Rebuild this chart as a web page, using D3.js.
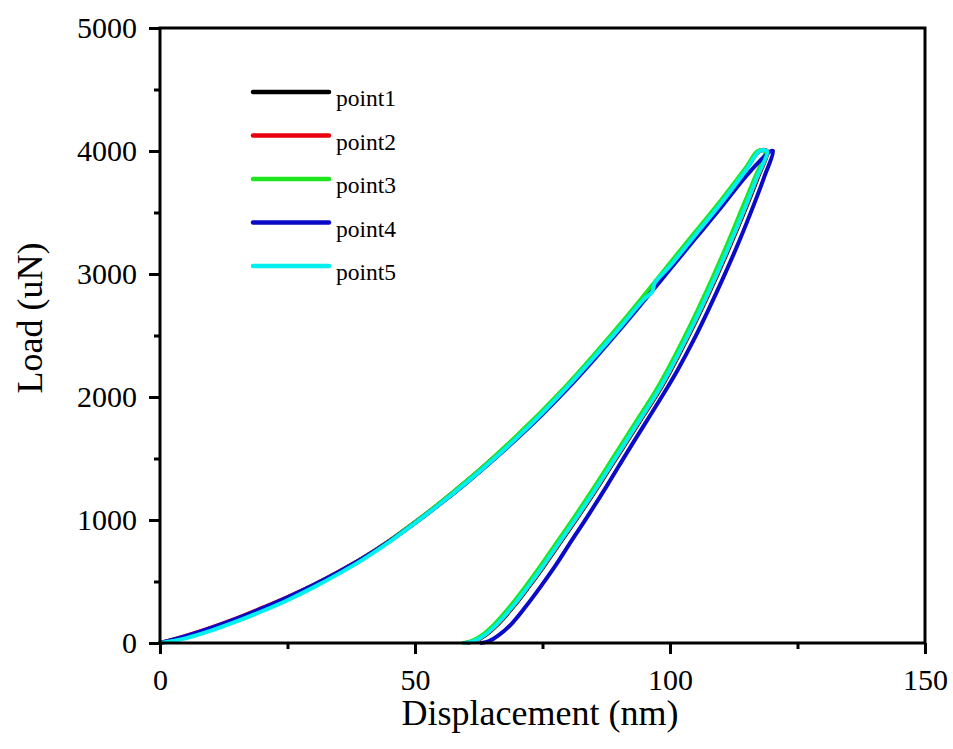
<!DOCTYPE html>
<html>
<head>
<meta charset="utf-8">
<script src="https://cdn.jsdelivr.net/npm/d3@7/dist/d3.min.js"></script>
<style>
  html, body { margin: 0; padding: 0; background: #fff; }
  svg { display: block; }
  text { font-family: "Liberation Serif", "Times New Roman", serif; fill: #000; }
</style>
</head>
<body>
<svg id="chart" width="953" height="749"></svg>
<script>
// ---- data (Displacement nm, Load uN) ----
const seriesNames = ["point1", "point2", "point3", "point4", "point5"];
const seriesColors = ["#000000", "#e8000b", "#1ee61e", "#0a0ac8", "#00f0f0"];

const loadGrid = [0, 5, 10, 15, 20, 25, 30, 35, 40, 45, 50, 55, 60, 65, 70, 75, 80, 85, 90, 95, 100, 105, 110, 115];

const point1Loading = [0, 50, 118, 192, 277, 367, 466, 576, 695, 830, 980, 1140, 1310, 1490, 1680, 1882, 2098, 2328, 2568, 2820, 3075, 3330, 3585, 3860];
const point2Loading = [0, 58, 125, 200, 285, 374, 472, 580, 698, 832, 982, 1142, 1312, 1492, 1682, 1884, 2100, 2330, 2570, 2822, 3078, 3332, 3588, 3862];
const point3Loading = [0, 48, 114, 190, 275, 366, 466, 576, 696, 831, 982, 1143, 1314, 1495, 1688, 1890, 2106, 2338, 2580, 2832, 3090, 3345, 3600, 3872];
const point4Loading = [0, 55, 122, 198, 282, 372, 470, 578, 695, 828, 975, 1132, 1298, 1475, 1662, 1860, 2072, 2300, 2538, 2786, 3038, 3290, 3540, 3800];
const point5Loading = [0, 38, 100, 175, 258, 348, 450, 562, 684, 822, 975, 1134, 1302, 1480, 1670, 1872, 2088, 2318, 2556, 2800, 3065, 3320, 3575, 3850];

// peak / hold segments [start displacement, end displacement] at 4000 uN
const point1Hold = [117.6, 119.0];
const point2Hold = [117.4, 119.0];
const point3Hold = [117.2, 118.6];
const point4Hold = [119.8, 120.2];
const point5Hold = [117.6, 119.0];

// small jog in point5 loading near 96 nm
const point5Jog = [[96.5, 2855], [97.0, 2925]];

// unloading segments (displacement, load), from peak down to zero
const unloadLoads = [3780, 3570, 3270, 2985, 2715, 2460, 2220, 2030, 1810, 1550, 1290, 1040, 800, 620, 450, 290, 150, 60, 15, 0];
const point1Unload = [117.2, 115.2, 112.2, 109.2, 106.2, 103.2, 100.2, 97.6, 94.2, 90.2, 86.2, 82.2, 78.2, 75.2, 72.2, 69.2, 66.2, 63.7, 61.7, 60.0];
const point2Unload = [117.1, 115.1, 112.1, 109.1, 106.1, 103.1, 100.1, 97.5, 94.1, 90.1, 86.1, 82.1, 78.1, 75.1, 72.1, 69.1, 66.1, 63.6, 61.6, 59.9];
const point3Unload = [116.6, 114.5, 111.5, 108.5, 105.5, 102.5, 99.5, 96.9, 93.5, 89.5, 85.5, 81.5, 77.5, 74.5, 71.5, 68.5, 65.5, 63.0, 61.0, 59.5];
const point4Unload = [118.4, 116.5, 113.6, 110.6, 107.6, 104.6, 101.5, 98.8, 95.5, 91.6, 87.8, 84.0, 80.2, 77.4, 74.5, 71.6, 68.8, 66.3, 64.5, 63.0];
const point5Unload = [117.0, 115.0, 112.0, 109.0, 106.0, 103.0, 100.0, 97.4, 94.0, 90.0, 86.0, 82.0, 78.0, 75.0, 72.0, 69.0, 66.0, 63.5, 61.5, 59.8];

const xTicks = [0, 50, 100, 150];
const xMinorTicks = [25, 75, 125];
const yTicks = [0, 1000, 2000, 3000, 4000, 5000];
const yMinorTicks = [500, 1500, 2500, 3500, 4500];

// ---- build series ----
function buildSeries(loading, hold, unload, jog) {
  const pts = loadGrid.map((d, i) => [d, loading[i]]);
  if (jog) {
    jog.forEach(p => pts.push(p));
    pts.sort((a, b) => a[0] - b[0]);
  }
  pts.push([hold[0], 4000]);
  if (hold[1] !== hold[0]) pts.push([hold[1], 4000]);
  unload.forEach((d, i) => pts.push([d, unloadLoads[i]]));
  return pts;
}
const allSeries = [
  buildSeries(point1Loading, point1Hold, point1Unload),
  buildSeries(point2Loading, point2Hold, point2Unload),
  buildSeries(point3Loading, point3Hold, point3Unload),
  buildSeries(point4Loading, point4Hold, point4Unload),
  buildSeries(point5Loading, point5Hold, point5Unload, point5Jog)
];

// ---- layout ----
const svg = d3.select("#chart");
const mLeft = 160, mRight = 925, mTop = 28, mBottom = 643;
const x = d3.scaleLinear().domain([0, 150]).range([mLeft, mRight]);
const y = d3.scaleLinear().domain([0, 5000]).range([mBottom, mTop]);

// curves
const line = d3.line().x(d => x(d[0])).y(d => y(d[1])).curve(d3.curveCatmullRom.alpha(0.5));
svg.append("g").selectAll("path")
  .data(allSeries)
  .join("path")
  .attr("d", line)
  .attr("fill", "none")
  .attr("stroke", (d, i) => seriesColors[i])
  .attr("stroke-width", 4)
  .attr("stroke-linejoin", "round")
  .attr("stroke-linecap", "round");

// frame
svg.append("rect")
  .attr("x", mLeft).attr("y", mTop)
  .attr("width", mRight - mLeft).attr("height", mBottom - mTop)
  .attr("fill", "none").attr("stroke", "#000").attr("stroke-width", 3);

function styleAxis(g) {
  g.select(".domain").remove();
  g.selectAll(".tick line").attr("stroke", "#000").attr("stroke-width", 3);
  g.selectAll(".tick text")
    .style("font-family", '"Liberation Serif", "Times New Roman", serif')
    .style("font-size", "30px").attr("fill", "#000");
}

// x axis
svg.append("g").attr("transform", `translate(0,${mBottom})`)
  .call(d3.axisBottom(x).tickValues(xTicks).tickSize(11).tickSizeOuter(0).tickPadding(15).tickFormat(d3.format("d")))
  .call(styleAxis);
svg.append("g").attr("transform", `translate(0,${mBottom})`)
  .call(d3.axisBottom(x).tickValues(xMinorTicks).tickSize(6).tickSizeOuter(0).tickFormat(""))
  .call(styleAxis);

// y axis
svg.append("g").attr("transform", `translate(${mLeft},0)`)
  .call(d3.axisLeft(y).tickValues(yTicks).tickSize(11).tickSizeOuter(0).tickPadding(12).tickFormat(d3.format("d")))
  .call(styleAxis);
svg.append("g").attr("transform", `translate(${mLeft},0)`)
  .call(d3.axisLeft(y).tickValues(yMinorTicks).tickSize(6).tickSizeOuter(0).tickFormat(""))
  .call(styleAxis);

// axis titles
svg.append("text")
  .attr("x", 540).attr("y", 725)
  .attr("text-anchor", "middle")
  .style("font-size", "36px")
  .text("Displacement (nm)");
svg.append("text")
  .attr("transform", "translate(42,318) rotate(-90)")
  .attr("text-anchor", "middle")
  .style("font-size", "36px")
  .text("Load (uN)");

// legend
const legend = svg.append("g");
const legendY0 = 92, legendStep = 43.5;
seriesNames.forEach((name, i) => {
  const ly = legendY0 + i * legendStep;
  legend.append("line")
    .attr("x1", 253).attr("x2", 329)
    .attr("y1", ly).attr("y2", ly)
    .attr("stroke", seriesColors[i])
    .attr("stroke-width", 4.5)
    .attr("stroke-linecap", "round");
  legend.append("text")
    .attr("x", 336).attr("y", ly + 14)
    .style("font-size", "23.5px")
    .text(name);
});
</script>
</body>
</html>
